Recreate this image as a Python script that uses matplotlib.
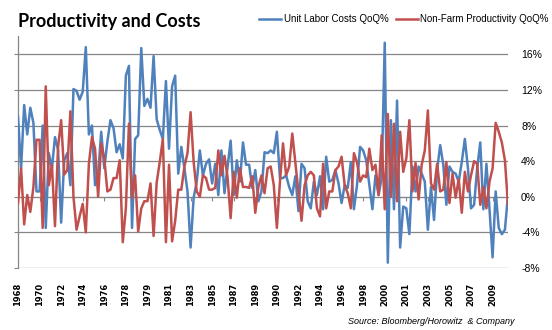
import numpy as np
import matplotlib.pyplot as plt
from matplotlib.ticker import FuncFormatter

# Quarterly % changes (one value per quarter)
unit_labor_costs = [
    9.0, 3.2, 10.3, 7.0, 10.0, 8.3, 0.6, 0.6, 8.0, -3.5,
    4.9, 3.2, 6.7, 5.3, -2.9, 4.1, 4.9, 1.3, 12.1, 11.9,
    10.9, 11.8, 16.8, 7.0, 8.0, 1.3, 2.4, 7.3, 3.2, 6.2,
    8.6, 7.7, 5.0, 5.9, 4.3, 13.6, 14.7, -3.5, 6.5, 6.9,
    16.7, 10.2, 11.0, 10.0, 15.8, 8.7, 7.5, 6.5, 13.0, 5.4,
    12.4, 13.6, 2.6, 5.6, 3.2, 0.6, -5.7, -0.1, 1.7, 5.2,
    2.4, 3.7, 4.2, 1.5, 3.7, 0.2, 5.2, 0.4, 3.4, 6.3,
    0.2, 4.1, 1.7, 6.1, 3.6, 3.6, 1.0, 3.0, -0.5, 0.6,
    5.0, 4.9, 5.2, 4.9, 7.3, 2.1, 2.1, 2.4, 1.1, 0.2,
    2.3, -1.6, 3.7, 3.2, -0.5, -1.3, 1.7, 0.2, 2.3, -1.4,
    4.5, 1.7, 1.9, 3.0, 1.5, -0.7, 1.3, 1.0, 3.9, -1.4,
    1.3, 5.6, 5.2, 4.1, 1.3, -1.4, 2.4, 0.2, 2.1, 17.3,
    -7.4, 8.6, -1.4, 10.8, -5.7, -1.1, -1.3, -4.2, 3.4, 0.6,
    3.4, 2.6, 1.7, -3.7, 1.1, -2.6, 3.0, 5.8, 3.6, -0.9,
    3.4, 2.8, 2.6, 1.7, 3.9, 6.5, 3.2, -1.3, -0.9, 3.2,
    6.1, -1.4, 3.7, -1.4, -6.8, 0.6, -3.5, -4.2, -3.7, 0.2,
]
productivity = [
    -0.7, 3.2, -3.1, 0.2, -1.7, 1.1, 6.4, 6.4, -3.5, 12.4,
    1.3, 3.6, -3.3, 5.6, 8.6, 2.5, 3.0, 9.6, 0.0, -3.7,
    -2.2, -0.8, -4.0, 3.7, 6.7, 5.4, 0.0, 6.0, 4.3, 0.6,
    0.8, 2.1, 2.1, 4.1, -5.1, -1.3, 8.2, -0.1, 2.4, -3.9,
    -1.3, -0.5, -0.5, 1.5, -4.4, 1.6, 3.9, 6.5, -5.1, 3.6,
    -5.0, -2.7, 0.8, 0.8, 3.4, 4.9, 9.5, 3.9, 0.6, 0.0,
    2.4, 2.1, 0.8, 0.8, 1.0, 5.2, 2.4, 4.6, 2.2, -2.4,
    2.8, -0.1, 3.2, 1.1, 1.1, 1.0, 2.3, -1.8, 1.1, 2.4,
    0.4, 3.2, 3.4, 1.3, -3.5, 1.7, 6.0, 2.4, 3.4, 7.1,
    3.8, 0.6, -2.7, 1.3, 2.4, 2.8, 2.4, -1.3, -2.2, 3.7,
    -1.3, 0.6, 0.6, 3.0, 3.4, 4.5, 1.3, 0.4, -1.3, 4.9,
    3.9, 1.7, 2.4, 2.2, 5.4, 3.0, 3.6, 0.2, 6.9, -1.4,
    9.3, 0.0, 8.2, -0.5, 7.3, 2.8, 4.3, 8.6, 0.6, 3.8,
    -0.3, 3.6, 5.2, 9.7, 1.5, 0.8, 3.7, 0.6, 0.8, 3.9,
    -0.7, 2.6, -0.1, 2.0, -1.8, 2.8, 0.6, 2.4, 4.0, 3.7,
    -0.9, 1.1, -1.3, 1.7, 3.2, 8.3, 7.3, 6.1, 4.1, -0.9,
]
year_labels = ['1968', '1970', '1972', '1974', '1976', '1978', '1979', '1981',
               '1983', '1985', '1987', '1989', '1990', '1992', '1994', '1996',
               '1998', '2000', '2001', '2003', '2005', '2007', '2009']
label_step = 7

x = np.arange(len(unit_labor_costs))
label_pos = np.arange(len(year_labels)) * label_step
grid_col = '#868686'

fig = plt.figure(figsize=(5.52, 3.3), dpi=100)
ax = fig.add_axes([18 / 552, 62 / 330, 490 / 552, 231.5 / 330])

ax.plot(x, unit_labor_costs, color='#4F81BD', lw=1.8, solid_joinstyle='round',
        label='Unit Labor Costs QoQ%', zorder=3)
ax.plot(x, productivity, color='#C0504D', lw=1.8, solid_joinstyle='round',
        label='Non-Farm Productivity QoQ%', zorder=3)

ax.set_xlim(0, len(x) - 1)
ax.set_ylim(-8, 18)
ax.set_yticks(np.arange(-8, 17, 4))
ax.yaxis.set_major_formatter(FuncFormatter(lambda v, p: f'{v:.0f}%'))
ax.yaxis.grid(True, color=grid_col, lw=0.9)
ax.set_axisbelow(True)

for s in ['top', 'right', 'bottom']:
    ax.spines[s].set_visible(False)
ax.spines['left'].set_color(grid_col)
ax.spines['left'].set_linewidth(0.9)

ax.tick_params(axis='y', left=True, right=False, labelleft=False, labelright=True,
               length=3, color=grid_col, pad=6.4, labelsize=7.5)
for t in ax.get_yticklabels():
    t.set_fontfamily('Liberation Sans')

ax.set_xticks(label_pos)
ax.set_xticklabels(year_labels, rotation=90, fontweight='bold', fontsize=6,
                   fontfamily='DejaVu Sans')
ax.tick_params(axis='x', length=0, pad=10.8)

# small category tick marks on the 0% line
sec = ax.secondary_xaxis(8 / 26)
sec.set_xticks(label_pos)
sec.tick_params(axis='x', length=3, color=grid_col, labelbottom=False, labeltop=False)
sec.spines['bottom'].set_color(grid_col)
sec.spines['top'].set_color(grid_col)

fig.text(17.5 / 552, 1 - 26.5 / 330, 'Productivity and Costs', fontfamily='Lato',
         fontweight='bold', fontsize=13, va='baseline', ha='left')

fig.legend(loc='center right', bbox_to_anchor=(549 / 552, 1 - 19 / 330), ncol=2,
           frameon=False, prop={'family': 'Liberation Sans', 'size': 7},
           handlelength=2.2, handletextpad=0.3, columnspacing=0.8,
           borderpad=0, borderaxespad=0)

fig.text(515 / 552, 1 - 322 / 330, 'Source: Bloomberg/Horowitz  & Company',
         fontfamily='Liberation Sans', style='italic', fontsize=6.5,
         ha='right', va='center')

fig.savefig('out.png', dpi=100)
